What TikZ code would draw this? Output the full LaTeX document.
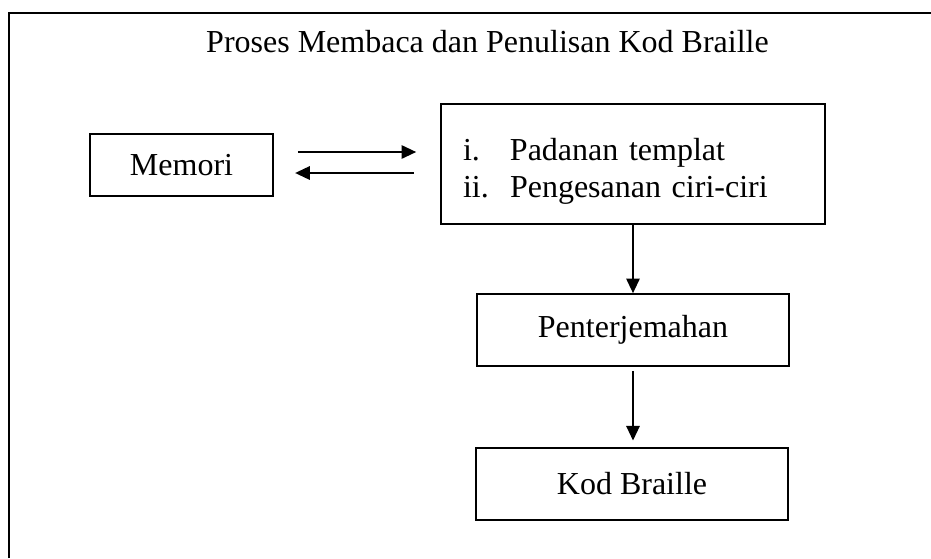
\documentclass[tikz,border=0pt]{standalone}
\usepackage{fontspec}
\setmainfont{Liberation Serif}
\usetikzlibrary{arrows.meta}

\tikzset{
    stepbox/.style={draw, line width=1.2pt, inner sep=0pt, align=center},
    flow/.style={line width=1.5pt, -{Triangle[length=11pt, width=10pt]}},
}

\begin{document}
\begin{tikzpicture}[x=0.75pt, y=-0.75pt, font=\fontsize{24}{27.75}\selectfont]
        % --- CANVAS ---
        \useasboundingbox (0, 0) rectangle (931, 558);
        \draw[line width=1.8pt] (9, 558) -- (9, 13) -- (931, 13);

        % --- TITLE ---
        \node[anchor=base] (title) at (487.5, 52) {Proses Membaca dan Penulisan Kod Braille};

        % --- BOXES ---
        \node[stepbox, minimum width=183*0.75pt, minimum height=62*0.75pt] (memori) at (181.5, 165) {Memori};
        \node[stepbox, minimum width=384*0.75pt, minimum height=120*0.75pt, align=left,
              text width=340*0.75pt, inner xsep=22*0.75pt] (padanan) at (633, 164)
            {\raisebox{-6pt}[\height][\depth]{\begin{tabular}{@{}p{47\dimexpr0.75pt\relax}@{}l@{}}
                i.  & Padanan templat\\
                ii. & Pengesanan ciri-ciri
            \end{tabular}}};
        \node[stepbox, minimum width=312*0.75pt, minimum height=72*0.75pt] (terjemah) at (633, 330) {Penterjemahan};
        \node[stepbox, minimum width=312*0.75pt, minimum height=72*0.75pt] (kod) at (632, 484) {Kod Braille};

        % --- ARROWS ---
        \draw[flow, shorten <=18pt, shorten >=18pt] ([yshift=9.75pt]memori.east) -- ([yshift=9.75pt]memori.east -| padanan.west);
        \draw[flow, shorten <=20pt, shorten >=16pt] ([yshift=-6.75pt]padanan.west) -- ([yshift=-6.75pt]padanan.west -| memori.east);
        \draw[flow] (padanan.south) -- (terjemah.north);
        \draw[flow, shorten <=3pt, shorten >=5pt] (terjemah.south) -- (terjemah.south |- kod.north);
    \end{tikzpicture}
\end{document}
